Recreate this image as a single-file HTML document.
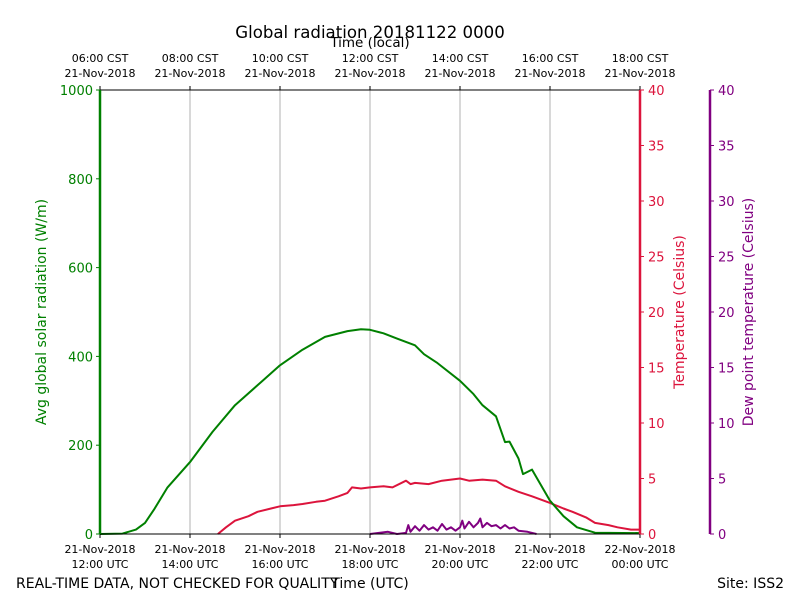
<!DOCTYPE html>
<html><head><meta charset="utf-8"><style>
body{margin:0;background:#fff}
svg{font-family:"DejaVu Sans","Liberation Sans",sans-serif}
</style></head><body>
<svg id="chart" width="800" height="600" viewBox="0 0 800 600">
<rect width="800" height="600" fill="#fff"/>
<text x="370" y="38" text-anchor="middle" font-size="16.6">Global radiation 20181122 0000</text>
<text x="370" y="47" text-anchor="middle" font-size="13.5">Time (local)</text>
<g id="grid"></g>
<g id="series"></g>
<rect x="100" y="90" width="540" height="444" fill="none" stroke="#000" stroke-width="1"/>
<line x1="100" y1="90" x2="100" y2="534" stroke="green" stroke-width="2.5"/>
<line x1="640" y1="90" x2="640" y2="534" stroke="crimson" stroke-width="2.5"/>
<line x1="710" y1="90" x2="710" y2="534" stroke="purple" stroke-width="2.5"/>
<g id="axes"></g>
<text x="46" y="312" transform="rotate(-90 46 312)" text-anchor="middle" font-size="14" fill="green">Avg global solar radiation (W/m)</text>
<text x="684" y="312" transform="rotate(-90 684 312)" text-anchor="middle" font-size="14" fill="crimson">Temperature (Celsius)</text>
<text x="753" y="312" transform="rotate(-90 753 312)" text-anchor="middle" font-size="14" fill="purple">Dew point temperature (Celsius)</text>
<text x="370" y="588" text-anchor="middle" font-size="14">Time (UTC)</text>
<text x="16" y="588" font-size="14">REAL-TIME DATA, NOT CHECKED FOR QUALITY</text>
<text x="784" y="588" text-anchor="end" font-size="14">Site: ISS2</text>
</svg>
<script>
const utcTicks=["21-Nov-2018|12:00 UTC","21-Nov-2018|14:00 UTC","21-Nov-2018|16:00 UTC","21-Nov-2018|18:00 UTC","21-Nov-2018|20:00 UTC","21-Nov-2018|22:00 UTC","22-Nov-2018|00:00 UTC"];
const localTicks=["06:00 CST|21-Nov-2018","08:00 CST|21-Nov-2018","10:00 CST|21-Nov-2018","12:00 CST|21-Nov-2018","14:00 CST|21-Nov-2018","16:00 CST|21-Nov-2018","18:00 CST|21-Nov-2018"];
const radTicks=[0,200,400,600,800,1000];
const tempTicks=[0,5,10,15,20,25,30,35,40];
const radHours=[0,0.5,0.8,1,1.2,1.5,2,2.5,3,3.5,4,4.5,5,5.5,5.8,6,6.3,6.6,7,7.2,7.5,8,8.3,8.5,8.8,9,9.1,9.3,9.4,9.6,10,10.3,10.6,11,12];
const radValues=[0,1,10,25,55,105,162,230,290,335,380,415,444,457,461,460,452,440,425,405,385,345,315,290,265,207,208,170,135,145,75,40,15,3,2];
const tempHours=[2.62,2.8,3,3.3,3.5,3.8,4,4.3,4.5,4.8,5,5.3,5.5,5.6,5.8,6,6.3,6.5,6.8,6.9,7,7.3,7.6,8,8.2,8.5,8.8,9,9.3,9.6,10,10.3,10.5,10.8,11,11.3,11.5,11.8,12];
const tempValues=[0,0.6,1.2,1.6,2,2.3,2.5,2.6,2.7,2.9,3,3.4,3.7,4.2,4.1,4.2,4.3,4.2,4.8,4.5,4.6,4.5,4.8,5,4.8,4.9,4.8,4.3,3.8,3.4,2.8,2.3,2,1.5,1,0.8,0.6,0.4,0.4];
const dewHours=[6,6.2,6.4,6.6,6.8,6.85,6.9,7,7.1,7.2,7.3,7.4,7.5,7.6,7.7,7.8,7.9,8,8.05,8.1,8.2,8.3,8.4,8.45,8.5,8.6,8.7,8.8,8.9,9,9.1,9.2,9.3,9.5,9.7];
const dewValues=[0,0.1,0.2,0,0.1,0.8,0.2,0.7,0.3,0.8,0.4,0.6,0.3,0.9,0.4,0.6,0.3,0.6,1.2,0.5,1.1,0.6,1.0,1.4,0.6,1.0,0.7,0.8,0.5,0.8,0.5,0.6,0.3,0.2,0];
const NS="http://www.w3.org/2000/svg";
const X0=100,X1=640,Y0=534,Y1=90;
const xs=h=>X0+(X1-X0)*h/12;
const yRad=v=>Y0-(Y0-Y1)*v/1000;
const yT=v=>Y0-(Y0-Y1)*v/40;
function mk(tag,attrs,parent){const e=document.createElementNS(NS,tag);for(const k in attrs)e.setAttribute(k,attrs[k]);parent.appendChild(e);return e;}
const grid=document.getElementById('grid'),axes=document.getElementById('axes'),ser=document.getElementById('series');
utcTicks.forEach((t,i)=>{const x=xs(i*2);
 if(i>0&&i<6){const g=mk('line',{x1:x,x2:x,y1:Y1,y2:Y0,stroke:'#b0b0b0','stroke-width':1},grid);
 
 }
 mk('line',{x1:x,x2:x,y1:Y0,y2:Y0+4,stroke:'#000'},axes);
 mk('line',{x1:x,x2:x,y1:Y1,y2:Y1-4,stroke:'#000'},axes);
 const p=t.split('|');
 const tx=mk('text',{x:x,y:553,'text-anchor':'middle','font-size':11},axes);
 
 
 tx.innerHTML=`<tspan x="${x}">${p[0]}</tspan><tspan x="${x}" dy="15">${p[1]}</tspan>`;
 const q=localTicks[i].split('|');
 const lx=mk('text',{x:x,y:62,'text-anchor':'middle','font-size':11},axes);
 
 
 lx.innerHTML=`<tspan x="${x}">${q[0]}</tspan><tspan x="${x}" dy="15">${q[1]}</tspan>`;
});
radTicks.forEach(v=>{const y=yRad(v);
 mk('line',{x1:X0-4,x2:X0,y1:y,y2:y,stroke:'green'},axes);
 const t=mk('text',{x:X0-7,y:y+5,'text-anchor':'end','font-size':13,fill:'green'},axes);
 
 
 t.textContent=v;});
tempTicks.forEach(v=>{const y=yT(v);
 mk('line',{x1:X1,x2:X1+4,y1:y,y2:y,stroke:'crimson'},axes);
 const t=mk('text',{x:X1+8,y:y+5,'font-size':13,fill:'crimson'},axes);
 
 
 t.textContent=v;
 mk('line',{x1:710,x2:714,y1:y,y2:y,stroke:'purple'},axes);
 const d=mk('text',{x:718,y:y+5,'font-size':13,fill:'purple'},axes);
 
 
 d.textContent=v;});
function line(hs,vs,yf,color,name){
 const pts=hs.map((h,i)=>xs(h).toFixed(1)+','+yf(vs[i]).toFixed(1)).join(' ');
 const p=mk('polyline',{points:pts,fill:'none',stroke:color,'stroke-width':2,'stroke-linejoin':'round'},ser);
 
 }
line(tempHours,tempValues,yT,'crimson','temperature-line');
line(dewHours,dewValues,yT,'purple','dew-point-line');
line(radHours,radValues,yRad,'green','radiation-line');
</script>
</body></html>
